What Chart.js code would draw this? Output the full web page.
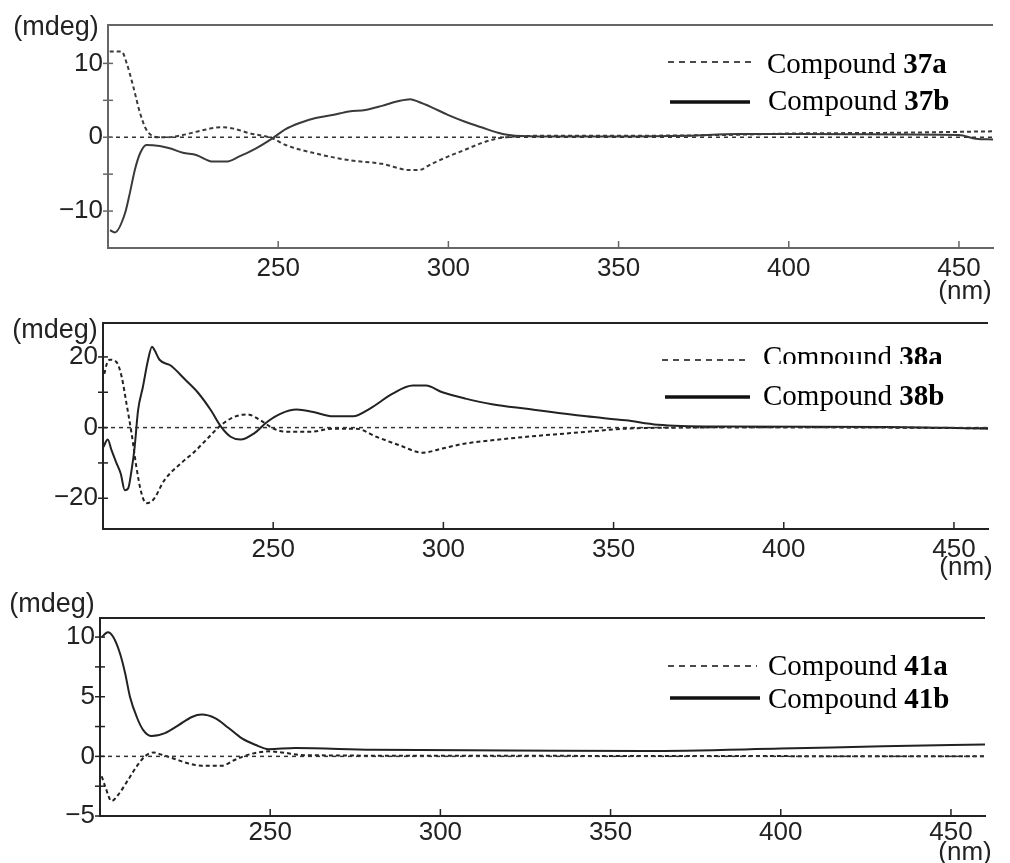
<!DOCTYPE html>
<html>
<head>
<meta charset="utf-8">
<script src="https://cdn.jsdelivr.net/npm/chart.js@4.4.0/dist/chart.umd.min.js"></script>
<style>
  body { margin: 0; background: #fff; }
  #wrap { position: relative; width: 1010px; height: 863px; overflow: hidden; }
  canvas { position: absolute; left: 0; }
</style>
</head>
<body>
<div id="wrap">
  <canvas id="p37" width="1010" height="310" style="top:0"></canvas>
  <canvas id="p38" width="1010" height="290" style="top:290px"></canvas>
  <canvas id="p41" width="1010" height="283" style="top:580px"></canvas>
</div>
<script>
// CD spectra, wavelength (nm) and ellipticity (mdeg)
const wl37a = [200.5, 204, 205.5, 207.4, 209.4, 211.3, 214.7, 217.2, 222, 226.9, 233.2, 236.6, 241.5, 248.3, 252.2, 261, 270.8, 280.5, 288.8, 291.2, 295.1, 300, 304.9, 309.7, 314.6, 319.5, 330, 350, 380, 400, 430, 460];
const cd37a = [11.6, 11.6, 10.0, 6.9, 3.3, 1.0, 0, 0, 0.3, 0.85, 1.35, 1.2, 0.55, -0.15, -1.05, -2.2, -3.1, -3.6, -4.45, -4.45, -3.6, -2.6, -1.7, -0.8, -0.15, 0.1, 0.2, 0.2, 0.3, 0.5, 0.6, 0.8];
const wl37b = [200.6, 202, 205, 206.4, 207.9, 209.4, 211.3, 215.2, 218.1, 222, 225.9, 230.8, 234.7, 238.6, 243.5, 248.3, 252.2, 256.1, 261, 265.9, 270.8, 275.6, 280.5, 285.4, 288.8, 291.2, 295.1, 300, 304.9, 309.7, 314.6, 319.5, 330, 350, 370, 385, 420, 450, 455, 460];
const cd37b = [-12.6, -12.9, -10.3, -7.6, -4.4, -2.2, -1.05, -1.2, -1.5, -2.1, -2.4, -3.3, -3.3, -2.6, -1.5, -0.15, 1.1, 1.9, 2.6, 3.0, 3.5, 3.7, 4.25, 4.9, 5.15, 4.8, 4.05, 3.0, 2.1, 1.35, 0.6, 0.2, 0.1, 0.1, 0.2, 0.45, 0.4, 0.3, -0.2, -0.3];

const wl38a = [200.4, 201.1, 202, 204, 205.5, 206.9, 208.4, 209.8, 211.3, 212.7, 214.7, 218.1, 222.9, 226.8, 230.7, 234.6, 238.5, 242.4, 246.3, 250.1, 254, 260.8, 267.6, 274.4, 280.3, 287.1, 293.9, 299.7, 306.5, 314.3, 324.5, 342, 353.6, 370, 400, 430, 460];
const cd38a = [15.2, 18.0, 19.2, 18.5, 14.3, 6.8, -1.7, -11.1, -18.6, -21.4, -20.5, -14.8, -10.1, -6.9, -3.1, 0.65, 3.0, 3.75, 2.05, -0.3, -1.2, -1.2, -0.3, -0.3, -2.6, -5.0, -7.1, -5.9, -4.5, -3.6, -2.6, -1.2, -0.3, 0, 0.1, 0, -0.2];
const wl38b = [200.1, 201.4, 202.5, 204, 205.2, 206.4, 207.4, 208.4, 209.3, 210.3, 211.7, 213.2, 214.4, 215.2, 216.6, 220, 223.9, 227.8, 231.7, 234.6, 237.5, 240.4, 244.3, 248.2, 252.1, 256.9, 261.8, 267.6, 273.5, 278.3, 285.1, 291, 294.9, 299.7, 306.5, 314.3, 324.5, 342, 353.6, 363, 380, 430, 455, 460];
const cd38b = [-5.5, -3.4, -6.4, -10.1, -13, -17.7, -17.2, -12, -5.5, 4.9, 11.4, 19, 22.9, 21.8, 19.2, 17.5, 13.8, 10.0, 4.9, 0.35, -2.6, -3.4, -1.7, 1.6, 3.9, 5.1, 4.4, 3.2, 3.2, 5.3, 9.6, 11.9, 11.9, 10.0, 8.2, 6.6, 5.3, 3.2, 2.05, 0.8, 0.3, 0.2, -0.2, -0.3];

const wl41a = [200.5, 201.5, 203.4, 205.4, 208.3, 210.8, 213.2, 215.7, 218.1, 222, 226, 229.9, 235.8, 239.7, 244.6, 249.5, 253.4, 260, 300, 460];
const cd41a = [-1.67, -2.5, -3.75, -3.2, -1.95, -0.83, 0, 0.33, 0.14, -0.22, -0.6, -0.78, -0.78, -0.28, 0.22, 0.42, 0.33, 0.1, 0.05, 0];
const wl41b = [200.5, 202.3, 203.9, 205.9, 207.4, 208.8, 210.8, 212.7, 215.2, 219.1, 223, 227, 229.9, 233.8, 237.7, 241.7, 245.6, 249.5, 257.4, 280, 320, 360, 400, 430, 460];
const cd41b = [10.0, 10.4, 10.0, 8.6, 6.95, 5.0, 3.3, 2.2, 1.7, 1.95, 2.6, 3.3, 3.5, 3.2, 2.4, 1.5, 0.97, 0.6, 0.7, 0.55, 0.5, 0.45, 0.65, 0.85, 1.0];

const wlZero = [200, 460];
const cdZero = [0, 0];

const wlTicks = [250, 300, 350, 400, 450];
const yTicks37 = [-10, -5, 0, 5, 10];
const yLabels37 = [-10, 0, 10];
const yTicks38 = [-20, -10, 0, 10, 20];
const yLabels38 = [-20, 0, 20];
const yTicks41 = [-5, -2.5, 0, 2.5, 5, 7.5, 10];
const yLabels41 = [-5, 0, 5, 10];

const names37 = ['37a', '37b'];
const names38 = ['38a', '38b'];
const names41 = ['41a', '41b'];

const SANS = '"Liberation Sans", Arial, sans-serif';
const SERIF = '"Liberation Serif", "Times New Roman", serif';

function pts(xs, ys) {
  return xs.map((x, i) => ({ x: x, y: ys[i] }));
}

function fmt(v) {
  return v < 0 ? '\u2212' + (-v) : String(v);
}

// frame top line, inward x ticks, crossing y ticks, unit labels and the legend
const deco = {
  id: 'deco',
  afterDraw(chart, args, o) {
    const ctx = chart.ctx, a = chart.chartArea;
    const xs = chart.scales.x, ys = chart.scales.y;
    ctx.save();
    ctx.strokeStyle = o.axisColor;
    ctx.lineWidth = 2;
    ctx.beginPath();
    ctx.moveTo(a.left, a.top);
    ctx.lineTo(a.right, a.top);
    ctx.stroke();

    ctx.lineWidth = 1.5;
    wlTicks.forEach(v => {
      const px = xs.getPixelForValue(v);
      ctx.beginPath();
      ctx.moveTo(px, a.bottom);
      ctx.lineTo(px, a.bottom - 7);
      ctx.stroke();
    });
    o.yTicks.forEach(v => {
      const py = ys.getPixelForValue(v);
      ctx.beginPath();
      ctx.moveTo(a.left - 5, py);
      ctx.lineTo(a.left + 5, py);
      ctx.stroke();
    });

    ctx.fillStyle = '#222';
    ctx.font = '27px ' + SANS;
    ctx.textAlign = 'center';
    ctx.textBaseline = 'middle';
    ctx.fillText('(mdeg)', o.mdeg[0], o.mdeg[1]);
    ctx.font = '26px ' + SANS;
    ctx.fillText('(nm)', o.nm[0], o.nm[1]);

    ctx.textAlign = 'left';
    ctx.textBaseline = 'alphabetic';
    o.legend.forEach((it, i) => {
      ctx.strokeStyle = '#111';
      ctx.lineWidth = i === 0 ? 1.5 : 3.5;
      ctx.setLineDash(i === 0 ? [6, 5] : []);
      ctx.beginPath();
      ctx.moveTo(it.x0, it.ly);
      ctx.lineTo(it.x1, it.ly);
      ctx.stroke();
      ctx.setLineDash([]);

      ctx.save();
      if (it.clip) {
        ctx.beginPath();
        ctx.rect(0, 0, chart.width, it.clip);
        ctx.clip();
      }
      ctx.fillStyle = '#000';
      ctx.font = '29px ' + SERIF;
      ctx.fillText('Compound ', it.tx, it.ty);
      const w = ctx.measureText('Compound ').width;
      ctx.font = 'bold 29px ' + SERIF;
      ctx.fillText(o.names[i], it.tx + w, it.ty);
      ctx.restore();
    });
    ctx.restore();
  }
};

function makePanel(id, wa, ca, wb, cb, yMin, yMax, yTicks, yLabels, box, lineColor, axisColor, xPad, decoOpts) {
  const cv = document.getElementById(id);
  decoOpts.axisColor = axisColor;
  decoOpts.yTicks = yTicks;
  new Chart(cv, {
    type: 'line',
    data: {
      datasets: [
        { data: pts(wlZero, cdZero), borderColor: '#333', borderWidth: 1.5, borderDash: [4, 4] },
        { data: pts(wa, ca), borderColor: lineColor, borderWidth: 2, borderDash: [4, 3], cubicInterpolationMode: 'monotone' },
        { data: pts(wb, cb), borderColor: lineColor, borderWidth: 2, cubicInterpolationMode: 'monotone' }
      ]
    },
    options: {
      responsive: false,
      animation: false,
      layout: { padding: { left: 0, top: box.top, right: 1010 - box.right, bottom: 0 } },
      elements: { point: { radius: 0 } },
      plugins: { legend: { display: false }, tooltip: { enabled: false }, deco: decoOpts },
      scales: {
        x: {
          type: 'linear',
          min: 200,
          max: 460,
          afterBuildTicks: s => { s.ticks = wlTicks.map(v => ({ value: v })); },
          afterFit: s => { s.height = cv.height - box.bottom; },
          grid: { display: true, drawOnChartArea: false, drawTicks: false },
          border: { display: true, color: axisColor, width: 2 },
          ticks: { padding: xPad, color: '#222', font: { family: SANS, size: 26 }, maxRotation: 0 }
        },
        y: {
          min: yMin,
          max: yMax,
          afterBuildTicks: s => { s.ticks = yTicks.map(v => ({ value: v })); },
          afterFit: s => { s.width = box.left; },
          grid: { display: true, drawOnChartArea: false, drawTicks: false },
          border: { display: true, color: axisColor, width: 2 },
          ticks: {
            padding: 5,
            color: '#222',
            font: { family: SANS, size: 26 },
            callback: v => yLabels.includes(v) ? fmt(v) : ''
          }
        }
      }
    },
    plugins: [deco]
  });
}

makePanel('p37', wl37a, cd37a, wl37b, cd37b, -15, 15.2, yTicks37, yLabels37,
  { left: 108, top: 25, right: 993, bottom: 248 }, '#3a3a3a', '#666', 5, {
    names: names37, mdeg: [56, 28], nm: [965, 292],
    legend: [
      { x0: 668, x1: 752, ly: 62, tx: 767, ty: 73 },
      { x0: 670, x1: 750, ly: 102, tx: 768, ty: 110 }
    ]
  });

makePanel('p38', wl38a, cd38a, wl38b, cd38b, -28.7, 29.6, yTicks38, yLabels38,
  { left: 103, top: 33, right: 988, bottom: 239 }, '#222', '#222', 5, {
    names: names38, mdeg: [55, 41], nm: [966, 278],
    legend: [
      { x0: 662, x1: 750, ly: 70, tx: 763, ty: 76, clip: 74 },
      { x0: 665, x1: 750, ly: 107, tx: 763, ty: 115 }
    ]
  });

makePanel('p41', wl41a, cd41a, wl41b, cd41b, -5, 11.6, yTicks41, yLabels41,
  { left: 100, top: 38, right: 985, bottom: 236 }, '#222', '#222', 1, {
    names: names41, mdeg: [52, 25], nm: [965, 273],
    legend: [
      { x0: 668, x1: 757, ly: 86, tx: 768, ty: 95 },
      { x0: 670, x1: 760, ly: 118, tx: 768, ty: 128 }
    ]
  });
</script>
</body>
</html>
